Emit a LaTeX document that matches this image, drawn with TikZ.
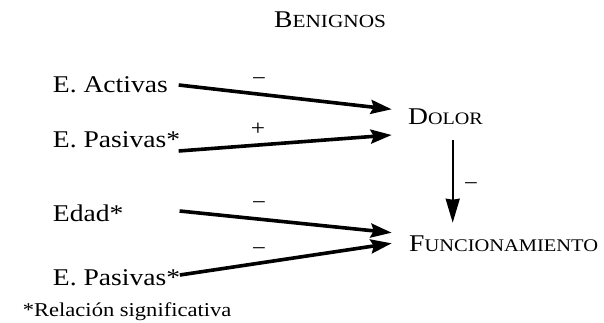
\documentclass[tikz,border=0pt]{standalone}
\usepackage{fontspec}
\setmainfont{Liberation Serif}[FakeStretch=1.15]
\usetikzlibrary{arrows.meta}
\newcommand\smc[3][17.5]{{\fontsize{24}{24}\selectfont #2\fontsize{#1}{#1}\selectfont #3}}
\begin{document}
\begin{tikzpicture}[x=1pt,y=1pt,
  lab/.style={inner sep=0pt, anchor=base west, font=\fontsize{24}{24}\selectfont},
  sgn/.style={inner sep=0pt, font=\fontsize{22}{22}\selectfont},
  flecha/.style={line width=3.6pt, -{Stealth[length=21pt,width=14pt,inset=3pt]}},
  vflecha/.style={line width=2pt, -{Stealth[length=24pt,width=14pt,inset=1pt]}}]
\useasboundingbox (0,0) rectangle (604,-323);
% title
\node[lab] (titulo) at (274,-28) {\smc[18.5]{B}{ENIGNOS}};
% predictors
\node[lab] (ea)   at (52.7,-92.7)  {E. Activas};
\node[lab] (ep1)  at (52.7,-147.3) {E. Pasivas*};
\node[lab] (edad) at (52.7,-221.5) {Edad*};
\node[lab] (ep2)  at (52.7,-285)   {E. Pasivas*};
% outcomes
\node[lab] (dolor) at (408,-125)  {\smc{D}{OLOR}};
\node[lab] (func)  at (409,-251.7) {\smc[17.8]{F}{UNCIONAMIENTO}};
% footnote
\node[inner sep=0pt, anchor=base west, font=\fontsize{19.6}{19.6}\selectfont] (nota) at (22.7,-316.7) {*Relación significativa};
% paths
\draw[flecha] ([xshift=10.6pt,yshift=7.7pt]ea.base east) -- ([xshift=-16.3pt,yshift=15.7pt]dolor.base west);
\draw[flecha] ([xshift=-1.7pt,yshift=-3.7pt]ep1.base east) -- ([xshift=-16.3pt,yshift=-10pt]dolor.base west);
\draw[flecha] ([xshift=56pt,yshift=10.5pt]edad.base east) -- ([xshift=-17.3pt,yshift=19pt]func.base west);
\draw[flecha] ([xshift=-0.5pt,yshift=10pt]ep2.base east) -- ([xshift=-17.3pt,yshift=8.4pt]func.base west);
\draw[vflecha] ([xshift=44.7pt,yshift=-15pt]dolor.base west) -- ([xshift=43.7pt,yshift=29pt]func.base west);
% signs
\node[sgn] (s1) at (259,-82)  {−};
\node[sgn] (s2) at (258,-129) {+};
\node[sgn] (s3) at (259,-206) {−};
\node[sgn] (s4) at (259,-252) {−};
\node[sgn] (s5) at (471,-187) {−};
\end{tikzpicture}
\end{document}
